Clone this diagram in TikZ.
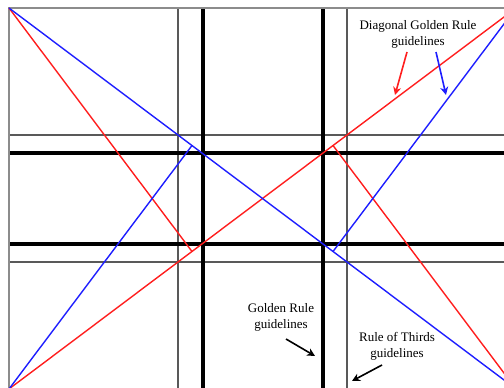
\documentclass[tikz,border=0pt]{standalone}
\usepackage{fontspec}
\setmainfont{Liberation Serif}
\usetikzlibrary{calc,arrows.meta}
\definecolor{redline}{RGB}{255,30,30}
\definecolor{blueline}{RGB}{30,30,255}
\tikzset{
  frameline/.style={draw=gray!90, line width=2pt},
  thirdsline/.style={draw=black!65, line width=2pt},
  goldenline/.style={draw=black, line width=4pt},
  redgold/.style={draw=redline, line width=1.4pt},
  bluegold/.style={draw=blueline, line width=1.4pt},
  lbl/.style={font=\fontsize{13}{16}\selectfont, align=center, inner sep=0pt},
  pointer/.style={line width=1.6pt, -{Stealth[length=8pt,width=8pt]}},
}
\begin{document}
\begin{tikzpicture}[x=1pt,y=-1pt]
\useasboundingbox (0,0) rectangle (504,388);
\begin{scope}
\clip (0,0) rectangle (504,388);
\coordinate (TL) at (9,8);
\coordinate (TR) at (516,8);
\coordinate (BL) at (9,389);
\coordinate (BR) at (516,389);
% rule of thirds
\draw[thirdsline] (178,8) -- (178,400);
\draw[thirdsline] (347,8) -- (347,400);
\draw[thirdsline] (9,135) -- (520,135);
\draw[thirdsline] (9,262) -- (520,262);
% golden rule
\draw[goldenline] (203,8) -- (203,400);
\draw[goldenline] (323,8) -- (323,400);
\draw[goldenline] (9,153) -- (520,153);
\draw[goldenline] (9,244) -- (520,244);
% frame
\draw[frameline] (BL) -- (TL) -- (TR) -- (BR) -- cycle;
% feet of perpendiculars
\coordinate (FR1) at ($(BL)!(TL)!(TR)$);
\coordinate (FR2) at ($(BL)!(BR)!(TR)$);
\coordinate (FB1) at ($(TL)!(BL)!(BR)$);
\coordinate (FB2) at ($(TL)!(TR)!(BR)$);
% diagonal golden rule
\draw[redgold] (BL) -- (TR);
\draw[redgold] (TL) -- (FR1);
\draw[redgold] (BR) -- (FR2);
\draw[bluegold] (TL) -- (BR);
\draw[bluegold] (BL) -- (FB1);
\draw[bluegold] (TR) -- (FB2);
\end{scope}
% labels
\node[lbl] (diag) at (418,34) {Diagonal Golden Rule\\guidelines};
\coordinate (redtip) at (395,95);
\coordinate (bluetip) at (446,95);
\draw[pointer, redline] (407,52) -- (redtip);
\draw[pointer, blueline] (436,52) -- (bluetip);
\node[lbl] (gold) at (281,317) {Golden Rule\\guidelines};
\coordinate (goldtip) at (315,356);
\draw[pointer] (286,339) -- (goldtip);
\node[lbl] (thirds) at (397,346) {Rule of Thirds\\guidelines};
\coordinate (thirdstip) at (352,381);
\draw[pointer] (382,365) -- (thirdstip);
\end{tikzpicture}
\end{document}
